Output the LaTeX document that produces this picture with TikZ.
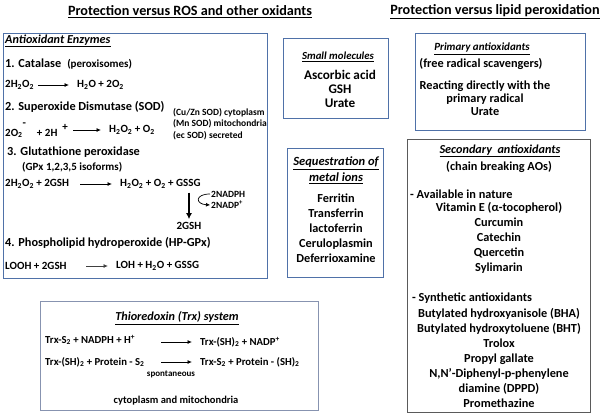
\documentclass[tikz,border=0pt]{standalone}
\usepackage{fontspec}
\setmainfont{Carlito}
\usepackage{xcolor}
\usetikzlibrary{arrows.meta}
\usetikzlibrary{shadows}

\definecolor{boxblue}{HTML}{4F71A8}
\definecolor{boxgrey}{HTML}{8793B0}
\definecolor{boxdark}{HTML}{5A5A5A}

\newcommand{\ssub}[1]{\textsubscript{#1}}
\newcommand{\ssup}[1]{\textsuperscript{#1}}
\newcommand{\fs}[2]{\fontsize{#1}{#2}\selectfont}

\tikzset{
    frame/.style={draw=boxblue, line width=1pt, fill=white,
        drop shadow={shadow xshift=1pt, shadow yshift=-1pt, opacity=0.25}},
    head/.style={font=\bfseries\fs{14.2}{16}, inner sep=1pt},
    ttl/.style={font=\bfseries\itshape\fs{12.2}{16}, inner sep=1pt, align=center},
    big/.style={font=\bfseries\fs{12.3}{14}, inner sep=1pt, anchor=west},
    rx/.style={font=\bfseries\fs{11}{13}, inner sep=1pt, anchor=west},
    rxs/.style={font=\bfseries\fs{10.7}{12}, inner sep=1pt, anchor=west},
    sm/.style={font=\bfseries\fs{9.5}{11.5}, inner sep=1pt, anchor=west, align=left},
    lst/.style={font=\bfseries\fs{12.3}{15}, inner sep=1pt, align=center},
    rxn/.style={-{Latex[length=4.5pt,width=4pt]}, line width=0.8pt, shorten >=7pt}
}

\begin{document}
\begin{tikzpicture}[x=1pt,y=-1pt]
    \useasboundingbox (0,0) rectangle (600,418);

    %HEADERS
    \node[head] (hros) at (190,12) {\underline{Protection versus ROS and other oxidants}};
    \node[head] (hlip) at (495,12) {\underline{Protection versus lipid peroxidation}};

    %BOXES
    \draw[frame] (3,33) rectangle (267,278);
    \draw[frame] (283,38) rectangle (388,118);
    \draw[frame] (287,148) rectangle (383,277);
    \draw[frame] (415,33) rectangle (585,130);
    \draw[frame, draw=boxdark] (407,139) rectangle (590,412);
    \draw[frame, draw=boxgrey] (40,301) rectangle (318,410);

    %ENZYMES
    \node[ttl, anchor=west] (enz) at (4,41) {\underline{Antioxidant Enzymes}};
    \node[big] (cat) at (4,64) {1. Catalase\hspace{6pt}{\fs{11}{13}(peroxisomes)}};
    \node[rx] (catl) at (4,85) {2H\ssub2O\ssub2};
    \node[rx] (catr) at (76,85) {H\ssub2O + 2O\ssub2};
    \draw[rxn] ([xshift=-38pt]catr.west) -- (catr.west);

    \node[big] (sod) at (4,107) {2. Superoxide Dismutase (SOD)};
    \node[rx] (sodl) at (4,130) {2O\ssub2\raisebox{10pt}{-}\hspace{11pt}+ 2H\hspace{5pt}\raisebox{6pt}{+}};
    \node[rx] (sodr) at (108,130) {H\ssub2O\ssub2 + O\ssub2};
    \draw[rxn] ([xshift=-35pt]sodr.west) -- (sodr.west);
    \node[sm] (sodloc) at (172,124) {(Cu/Zn SOD) cytoplasm\\(Mn SOD) mitochondria\\(ec SOD) secreted};

    \node[big] (gpx) at (6,152) {3. Glutathione peroxidase};
    \node[rx] (gpxiso) at (21,167) {(GPx 1,2,3,5 isoforms)};
    \node[rx] (gpxl) at (4,184) {2H\ssub2O\ssub2 + 2GSH};
    \node[rx] (gpxr) at (119,184) {H\ssub2O\ssub2 + O\ssub2 + GSSG};
    \draw[rxn] ([xshift=-39pt]gpxr.west) -- (gpxr.west);
    \node[rx, anchor=center] (gsh) at (189,226) {2GSH};
    \node[sm] (nadph) at (210,194) {2NADPH};
    \node[sm] (nadp) at (210,205) {2NADP\ssup{+}};
    \draw[-{Latex[length=6pt,width=6pt]}, line width=2.2pt, shorten <=3pt, shorten >=2pt]
        (gsh.north |- gpxr.south) -- (gsh.north);
    \draw[-{Latex[length=4pt,width=4pt]}, line width=0.7pt]
        (nadph.west) .. controls (195,194) and (195,204) .. (nadp.west);

    \node[big] (hpgpx) at (4,243) {4. Phospholipid hydroperoxide (HP-GPx)};
    \node[rx] (hpl) at (4,266) {LOOH + 2GSH};
    \node[rx] (hpr) at (115,266) {LOH + H\ssub2O + GSSG};
    \draw[rxn, draw=black!75] ([xshift=-29pt]hpr.west) -- (hpr.west);

    %SMALL MOLECULES
    \node[ttl, font=\bfseries\itshape\fs{10.8}{13}] (smol) at (338,57) {\underline{Small molecules}};
    \node[lst, font=\bfseries\fs{13.2}{14}] (smoll) at (340,89) {Ascorbic acid\\GSH\\Urate};

    %METAL IONS
    \node[ttl, font=\bfseries\itshape\fs{12.5}{16}] (seq) at (336,170) {\underline{Sequestration of}\\\underline{metal ions}};
    \node[lst] (seql) at (336,228) {Ferritin\\Transferrin\\lactoferrin\\Ceruloplasmin\\Deferrioxamine};

    %PRIMARY
    \node[ttl, font=\bfseries\itshape\fs{11}{13}] (prim) at (482,49) {\underline{Primary antioxidants}};
    \node[lst] (primsub) at (481,64) {(free radical scavengers)};
    \node[lst, font=\bfseries\fs{12.3}{13}] (priml) at (485,98) {Reacting directly with the\\primary radical\\Urate};

    %SECONDARY
    \node[ttl] (sec) at (500,151) {\underline{Secondary\ \ antioxidants}};
    \node[lst] (secsub) at (499,167) {(chain breaking AOs)};
    \node[lst, anchor=west] (nat) at (409,194) {- Available in nature};
    \node[lst] (natl) at (499,238) {Vitamin E (α-tocopherol)\\Curcumin\\Catechin\\Quercetin\\Sylimarin};
    \node[lst, anchor=west] (syn) at (411,298) {- Synthetic antioxidants};
    \node[lst] (synl) at (499,358) {Butylated hydroxyanisole (BHA)\\Butylated hydroxytoluene (BHT)\\Trolox\\Propyl gallate\\N,N’-Diphenyl-p-phenylene\\diamine (DPPD)\\Promethazine};

    %THIOREDOXIN
    \node[ttl] (trx) at (177,318) {\underline{Thioredoxin (Trx) system}};
    \node[rxs] (trxa) at (44,340) {Trx-S\ssub2 + NADPH + H\ssup{+}};
    \node[rxs] (trxb) at (199,342) {Trx-(SH)\ssub2 + NADP\ssup{+}};
    \draw[rxn] ([xshift=-38pt]trxb.west) -- (trxb.west);
    \node[rxs] (trxc) at (44,362) {Trx-(SH)\ssub2 + Protein - S\ssub2};
    \node[rxs] (trxd) at (199,362) {Trx-S\ssub2 + Protein - (SH)\ssub2};
    \draw[rxn] ([xshift=-38pt]trxd.west) -- (trxd.west);
    \node[sm, anchor=center, font=\bfseries\fs{9}{11}] (spon) at (171,374) {spontaneous};
    \node[rx, anchor=center, font=\bfseries\fs{10.5}{12}] (trxloc) at (176,401) {cytoplasm and mitochondria};
\end{tikzpicture}
\end{document}
